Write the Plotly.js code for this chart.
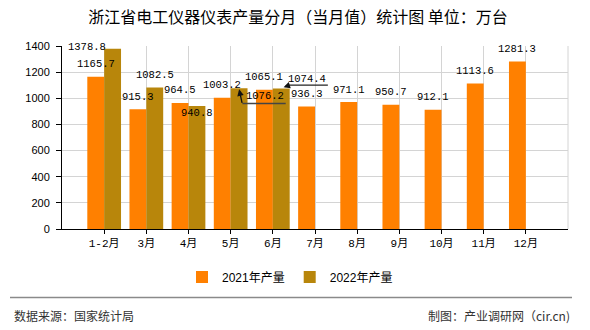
<!DOCTYPE html>
<html>
<head>
<meta charset="utf-8">
<script src="https://cdn.plot.ly/plotly-3.0.1.min.js"></script>
<style>html,body{margin:0;padding:0;background:#fff;}#chart{width:590px;height:330px;}</style>
</head>
<body>
<div id="chart"></div>
<script>
// ---- data ----
const months = ['1-2月','3月','4月','5月','6月','7月','8月','9月','10月','11月','12月'];
const y2021 = [1165.7, 915.3, 964.5, 1003.2, 1065.1, 936.3, 971.1, 950.7, 912.1, 1113.6, 1281.3];
const y2022 = [1378.8, 1082.5, 940.8, 1076.2, 1074.4, null, null, null, null, null, null];
const seriesNames = ['2021年产量', '2022年产量'];
const yTicks = [0, 200, 400, 600, 800, 1000, 1200, 1400];
const titleText = '浙江省电工仪器仪表产量分月（当月值）统计图 单位：万台';
const sourceText = '数据来源：国家统计局';
const creditText = '制图：产业调研网（cir.cn)';

// ---- style / layout ----
const W = 590, H = 330;
const M = {l: 62, r: 22, t: 46, b: 101};
const PW = W - M.l - M.r, PH = H - M.t - M.b;
const px2paperX = p => (p - M.l) / PW;
const px2paperY = p => (H - M.b - p) / PH;
const colors = ['#FF8000', '#B8860B'];
const gridColor = '#d4d4d4';
const labelFont = {family: 'Liberation Mono, DejaVu Sans Mono, monospace', size: 10.5, color: '#000'};
const half = 0.2; // half of a bar slot in category units

// label displacements (pixels) for crowded labels: [series, index] -> {dx, dy}
const labelMoves = {
  '1,0': {dx: -25.7, dy: 1.8},
  '1,2': {dx: 0, dy: -7},
  '1,3': {dx: 25.6, dy: -7.5},
  '1,4': {dx: 25.3, dy: 9.4}
};
const defaultDy = 12.5;

const traces = [y2021, y2022].map((vals, s) => ({
  type: 'bar',
  name: seriesNames[s],
  x: months,
  y: vals,
  marker: {color: colors[s], line: {width: 0}},
  hoverinfo: 'x+y'
}));

const annotations = [];
[y2021, y2022].forEach((vals, s) => {
  vals.forEach((v, i) => {
    if (v === null) return;
    const mv = labelMoves[s + ',' + i] || {dx: 0, dy: defaultDy};
    annotations.push({
      x: i + (s === 0 ? -half : half), y: v, xref: 'x', yref: 'y',
      text: v.toFixed(1), showarrow: false,
      xanchor: 'center', yanchor: 'middle',
      xshift: mv.dx, yshift: mv.dy, font: labelFont
    });
  });
});
// leader arrows for displaced labels (5月, 6月 of 2022)
annotations.push({x: 3 + half, y: y2022[3], xref: 'x', yref: 'y', text: '', showarrow: true,
  ax: 3.3, ay: 15, arrowhead: 2, arrowsize: 1, arrowwidth: 1.3, arrowcolor: '#111', standoff: 0, yshift: -1});
annotations.push({x: 4 + half, y: y2022[4], xref: 'x', yref: 'y', text: '', showarrow: true,
  ax: 6, ay: -2, arrowhead: 2, arrowsize: 1, arrowwidth: 1.3, arrowcolor: '#111', standoff: 0, xshift: 2.3, yshift: 1.4});

// footer texts
annotations.push({xref: 'paper', yref: 'paper', x: px2paperX(12), y: px2paperY(315), xanchor: 'left', yanchor: 'middle',
  text: sourceText, showarrow: false, font: {family: 'Noto Sans CJK SC, sans-serif', size: 12, color: '#333'}});
annotations.push({xref: 'paper', yref: 'paper', x: px2paperX(572), y: px2paperY(315), xanchor: 'right', yanchor: 'middle',
  text: creditText, showarrow: false, font: {family: 'Noto Sans CJK SC, sans-serif', size: 12, color: '#333'}});

const shapes = [
  // right border of plot
  {type: 'line', xref: 'paper', yref: 'paper', x0: 1, x1: 1, y0: 0, y1: 1, line: {color: gridColor, width: 1}},
  // small end ticks
  {type: 'line', xref: 'paper', yref: 'y', ysizemode: 'pixel', yanchor: 0, x0: 1, x1: 1, y0: 0, y1: -4, line: {color: '#000', width: 1}},
  {type: 'line', xref: 'paper', yref: 'y', ysizemode: 'pixel', yanchor: 0, x0: 0, x1: 0, y0: 0, y1: -4, line: {color: '#000', width: 1}},
  // underlines of displaced labels
  {type: 'line', xref: 'x', yref: 'y', xsizemode: 'pixel', ysizemode: 'pixel', xanchor: 3 + half, yanchor: y2022[3],
    x0: 3.3, x1: 46.6, y0: -15.1, y1: -15.1, line: {color: '#444', width: 1.6}},
  {type: 'line', xref: 'x', yref: 'y', xsizemode: 'pixel', ysizemode: 'pixel', xanchor: 4 + half, yanchor: y2022[4],
    x0: 7, x1: 46.6, y0: 3.4, y1: 3.4, line: {color: '#222', width: 1.3}},
  // footer separator
  {type: 'line', xref: 'paper', yref: 'paper', x0: px2paperX(10), x1: px2paperX(572), y0: px2paperY(297.5), y1: px2paperY(297.5),
    line: {color: '#8a8a8a', width: 1.5}}
];

const layout = {
  width: W, height: H,
  margin: M,
  paper_bgcolor: '#fff', plot_bgcolor: '#fff',
  title: {text: titleText, xref: 'container', x: 0.505, xanchor: 'center', yref: 'container', y: 1 - 17 / H, yanchor: 'middle',
    font: {family: 'Noto Sans CJK SC, sans-serif', size: 16, color: '#000', weight: 'normal'}},
  barmode: 'group', bargap: 0.2, bargroupgap: 0,
  showlegend: true,
  legend: {orientation: 'h', xref: 'container', yref: 'container', x: 290 / W, xanchor: 'center', y: 1 - 277 / H, yanchor: 'middle',
    font: {family: 'Liberation Sans, Noto Sans CJK SC, sans-serif', size: 12, color: '#000'}, itemwidth: 30},
  xaxis: {
    type: 'category', range: [-1, 11], fixedrange: true,
    showgrid: true, gridcolor: gridColor, gridwidth: 1,
    showline: true, linecolor: '#000', linewidth: 1,
    ticks: 'outside', ticklen: 4, tickcolor: '#000',
    tickfont: {family: 'Liberation Mono, Noto Sans CJK SC, monospace', size: 11, color: '#000'},
    zeroline: false
  },
  yaxis: {
    range: [0, 1400], fixedrange: true,
    tickvals: yTicks, ticktext: yTicks.map(String),
    showgrid: true, gridcolor: gridColor, gridwidth: 1,
    showline: true, linecolor: '#000', linewidth: 1,
    ticks: 'outside', ticklen: 5, tickcolor: '#000', ticklabelstandoff: 4,
    tickfont: {family: 'Liberation Sans, sans-serif', size: 11, color: '#000'},
    zeroline: false
  },
  annotations: annotations,
  shapes: shapes
};

Plotly.newPlot('chart', traces, layout, {displayModeBar: false, staticPlot: true});
</script>
</body>
</html>
